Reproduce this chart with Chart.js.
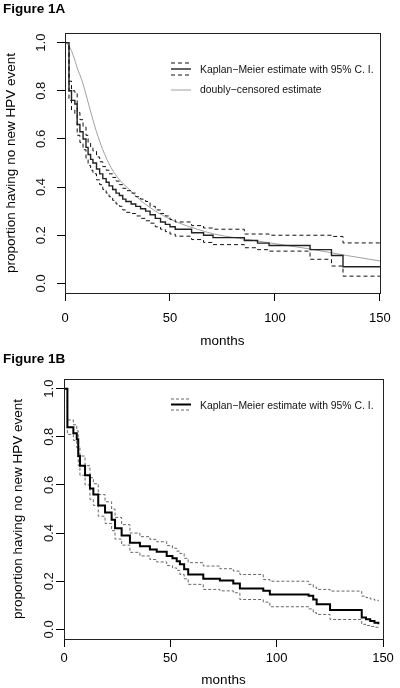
<!DOCTYPE html>
<html>
<head>
<meta charset="utf-8">
<script src="https://cdn.jsdelivr.net/npm/chart.js@4.4.0/dist/chart.umd.min.js"></script>
<style>
    body { margin: 0; background: #fff; }
    canvas { display: block; }
</style>
</head>
<body>
<canvas id="chartFig1A" width="400" height="350"></canvas>
<canvas id="chartFig1B" width="400" height="338"></canvas>
<script>
var FONT = '"Liberation Sans", Arial, Helvetica, sans-serif';

var monthTicks = [0, 50, 100, 150];
var propTicks = [0, 0.2, 0.4, 0.6, 0.8, 1.0];

// Figure 1A : Kaplan-Meier estimate with 95% C.I.
var kmAMonths = [0, 1.9, 3.1, 4.7, 5.8, 7.1, 8.6, 10, 11, 12.2, 13.3, 15, 16.5, 18, 19.6, 21, 22.7, 24.3, 25.9, 27.5,
    29, 31.5, 33.7, 36, 38.4, 40.5, 43, 45.5, 47.8, 50, 52.5, 60.3, 66, 70.5, 85.4, 91.7, 97.2, 116.7, 126.9, 132.4, 150];
var kmAEstimate = [1, 0.80, 0.76, 0.745, 0.66, 0.63, 0.60, 0.565, 0.535, 0.515, 0.50, 0.475, 0.455, 0.435, 0.42, 0.405, 0.39, 0.375, 0.365, 0.35,
    0.34, 0.33, 0.32, 0.31, 0.30, 0.285, 0.27, 0.255, 0.245, 0.235, 0.225, 0.21, 0.2, 0.19, 0.178, 0.167, 0.157, 0.14, 0.116, 0.069, 0.069];
var kmALower = [1, 0.76, 0.72, 0.70, 0.615, 0.585, 0.555, 0.52, 0.49, 0.47, 0.455, 0.43, 0.41, 0.39, 0.375, 0.36, 0.345, 0.33, 0.32, 0.305,
    0.295, 0.29, 0.28, 0.27, 0.26, 0.25, 0.235, 0.225, 0.215, 0.205, 0.196, 0.182, 0.17, 0.161, 0.148, 0.14, 0.134, 0.10, 0.072, 0.03, 0.03];
var kmAUpper = [1, 0.84, 0.80, 0.79, 0.71, 0.68, 0.65, 0.615, 0.585, 0.565, 0.55, 0.525, 0.505, 0.485, 0.47, 0.455, 0.44, 0.425, 0.41, 0.395,
    0.385, 0.375, 0.36, 0.35, 0.34, 0.32, 0.305, 0.29, 0.28, 0.265, 0.255, 0.24, 0.23, 0.225, 0.205, 0.205, 0.2, 0.2, 0.195, 0.168, 0.168];

// Figure 1A : doubly-censored estimate
var dcAMonths = [0, 2, 4, 6, 8, 10, 12, 15, 18, 22, 26, 30, 36, 44, 54, 63, 71, 87, 103, 118, 134, 150];
var dcAEstimate = [1.0, 0.985, 0.945, 0.89, 0.845, 0.785, 0.72, 0.63, 0.555, 0.48, 0.43, 0.395, 0.345, 0.295, 0.252, 0.225, 0.205, 0.182, 0.161, 0.141, 0.116, 0.093];

// Figure 1B : Kaplan-Meier estimate with 95% C.I.
var kmBMonths = [0, 1.6, 4.4, 6.0, 6.7, 7.5, 9.9, 12.2, 13.8, 16.1, 19.3, 22.4, 24, 27.1, 31, 35.7, 40.4, 43.6, 48.3, 51,
    53, 54.5, 56.5, 58.4, 65.5, 73.3, 79.6, 82.7, 93.7, 96.8, 115, 117.2, 118.8, 125.1, 140, 142, 144, 146, 147.8];
var kmBEstimate = [1, 0.84, 0.815, 0.79, 0.72, 0.68, 0.64, 0.585, 0.56, 0.515, 0.485, 0.455, 0.42, 0.39, 0.36, 0.345, 0.332, 0.322, 0.305, 0.295,
    0.283, 0.27, 0.25, 0.228, 0.21, 0.203, 0.191, 0.17, 0.16, 0.145, 0.14, 0.124, 0.104, 0.08, 0.049, 0.042, 0.035, 0.028, 0.021];
var kmBLower = [1, 0.81, 0.785, 0.755, 0.68, 0.64, 0.60, 0.54, 0.515, 0.47, 0.44, 0.41, 0.375, 0.35, 0.32, 0.305, 0.29, 0.28, 0.265, 0.255,
    0.245, 0.228, 0.21, 0.187, 0.166, 0.16, 0.152, 0.124, 0.113, 0.094, 0.085, 0.069, 0.062, 0.041, 0.021, 0.016, 0.012, 0.009, 0.007];
var kmBUpper = [1, 0.87, 0.85, 0.825, 0.76, 0.72, 0.68, 0.63, 0.605, 0.56, 0.53, 0.50, 0.465, 0.435, 0.40, 0.385, 0.374, 0.364, 0.348, 0.337,
    0.325, 0.315, 0.295, 0.277, 0.263, 0.252, 0.242, 0.228, 0.207, 0.2, 0.187, 0.175, 0.166, 0.159, 0.138, 0.132, 0.126, 0.121, 0.117];

function toPoints(xs, ys) {
    return xs.map(function(x, i) { return {x: x, y: ys[i]}; });
}

// R style frame, rotated y labels and legend
var rStylePlugin = {
    id: 'rStyle',
    afterDatasetsDraw: function(chart, args, opts) {
        var ctx = chart.ctx;
        var a = chart.chartArea;
        ctx.save();
        ctx.strokeStyle = '#222';
        ctx.lineWidth = 1;
        ctx.strokeRect(Math.round(a.left) + 0.5, Math.round(a.top) + 0.5, Math.round(a.right - a.left), Math.round(a.bottom - a.top));

        var yScale = chart.scales.y;
        ctx.fillStyle = '#111';
        ctx.font = '13px ' + FONT;
        ctx.textAlign = 'center';
        ctx.textBaseline = 'middle';
        propTicks.forEach(function(v) {
            ctx.save();
            ctx.translate(opts.labelX, yScale.getPixelForValue(v));
            ctx.rotate(-Math.PI / 2);
            ctx.fillText(v.toFixed(1), 0, 0);
            ctx.restore();
        });

        opts.legend.forEach(function(item) {
            item.lines.forEach(function(ln) {
                ctx.beginPath();
                ctx.setLineDash(ln.dash || []);
                ctx.strokeStyle = ln.color;
                ctx.lineWidth = ln.width;
                ctx.moveTo(171, ln.y);
                ctx.lineTo(191, ln.y);
                ctx.stroke();
            });
            ctx.setLineDash([]);
            ctx.fillStyle = '#111';
            ctx.textAlign = 'left';
            ctx.font = '10.4px ' + FONT;
            ctx.fillText(item.text, 200, item.textY);
        });
        ctx.restore();
    }
};

function kmOptions(p) {
    return {
        responsive: false,
        animation: false,
        layout: {padding: {left: 3, top: 0, right: p.right, bottom: 0}},
        plugins: {
            legend: {display: false},
            tooltip: {enabled: false},
            title: {
                display: true,
                text: p.title,
                align: 'start',
                color: '#000',
                font: {family: FONT, size: 13.5, weight: 'bold'},
                padding: {top: 1, bottom: p.titleGap}
            },
            rStyle: {labelX: p.labelX, legend: p.legend}
        },
        scales: {
            x: {
                type: 'linear',
                min: 0,
                max: 150,
                afterBuildTicks: function(s) { s.ticks = monthTicks.map(function(v) { return {value: v}; }); },
                afterFit: function(s) { s.height = p.xHeight; },
                ticks: {color: '#000', font: {family: FONT, size: 13}, padding: p.xPad, maxRotation: 0},
                grid: {drawOnChartArea: false, tickLength: 8, tickColor: '#000'},
                border: {display: false},
                title: {display: true, text: 'months', color: '#000', font: {family: FONT, size: 13.5}, padding: {top: 0, bottom: p.xTitlePad}}
            },
            y: {
                type: 'linear',
                min: -0.04,
                max: 1.04,
                afterBuildTicks: function(s) { s.ticks = propTicks.map(function(v) { return {value: v}; }); },
                afterFit: function(s) { s.width = p.yWidth; },
                ticks: {display: false},
                grid: {drawOnChartArea: false, tickLength: 8, tickColor: '#000'},
                border: {display: false},
                title: {display: true, text: 'proportion having no new HPV event', color: '#000', font: {family: FONT, size: 13.5}, padding: {top: p.yTitlePad, bottom: 0}}
            }
        }
    };
}

var kmLabel = 'Kaplan\u2212Meier estimate with 95% C. I.';

var chartFig1A = new Chart(document.getElementById('chartFig1A'), {
    type: 'line',
    data: {
        datasets: [
            {label: 'Kaplan-Meier', data: toPoints(kmAMonths, kmAEstimate), stepped: 'before', borderColor: '#222', borderWidth: 1.4, pointRadius: 0},
            {label: 'lower', data: toPoints(kmAMonths, kmALower), stepped: 'before', borderColor: '#111', borderWidth: 1, borderDash: [4, 3], pointRadius: 0},
            {label: 'upper', data: toPoints(kmAMonths, kmAUpper), stepped: 'before', borderColor: '#111', borderWidth: 1, borderDash: [4, 3], pointRadius: 0},
            {label: 'doubly-censored', data: toPoints(dcAMonths, dcAEstimate), borderColor: '#a0a0a0', borderWidth: 1, cubicInterpolationMode: 'monotone', pointRadius: 0}
        ]
    },
    options: kmOptions({
        title: 'Figure 1A', titleGap: 15.8, right: 16, yWidth: 62, xHeight: 57, xPad: 9.2, xTitlePad: 1,
        yTitlePad: 0, labelX: 41,
        legend: [
            {text: kmLabel, textY: 70, lines: [
                {y: 63, dash: [4, 3], color: '#111', width: 1},
                {y: 69, color: '#222', width: 1.4},
                {y: 75, dash: [4, 3], color: '#111', width: 1}
            ]},
            {text: 'doubly\u2212censored estimate', textY: 90.5, lines: [
                {y: 90, color: '#a0a0a0', width: 1}
            ]}
        ]
    }),
    plugins: [rStylePlugin]
});

var chartFig1B = new Chart(document.getElementById('chartFig1B'), {
    type: 'line',
    data: {
        datasets: [
            {label: 'Kaplan-Meier', data: toPoints(kmBMonths, kmBEstimate), stepped: 'before', borderColor: '#000', borderWidth: 2, pointRadius: 0},
            {label: 'lower', data: toPoints(kmBMonths, kmBLower), stepped: 'before', borderColor: '#666', borderWidth: 1, borderDash: [3, 2], pointRadius: 0},
            {label: 'upper', data: toPoints(kmBMonths, kmBUpper), stepped: 'before', borderColor: '#666', borderWidth: 1, borderDash: [3, 2], pointRadius: 0}
        ]
    },
    options: kmOptions({
        title: 'Figure 1B', titleGap: 11.8, right: 17, yWidth: 61, xHeight: 49, xPad: 3.2, xTitlePad: 0,
        yTitlePad: 7.4, labelX: 49,
        legend: [
            {text: kmLabel, textY: 56, lines: [
                {y: 49, dash: [3, 2], color: '#666', width: 1},
                {y: 54.5, color: '#000', width: 2},
                {y: 60, dash: [3, 2], color: '#666', width: 1}
            ]}
        ]
    }),
    plugins: [rStylePlugin]
});
</script>
</body>
</html>
